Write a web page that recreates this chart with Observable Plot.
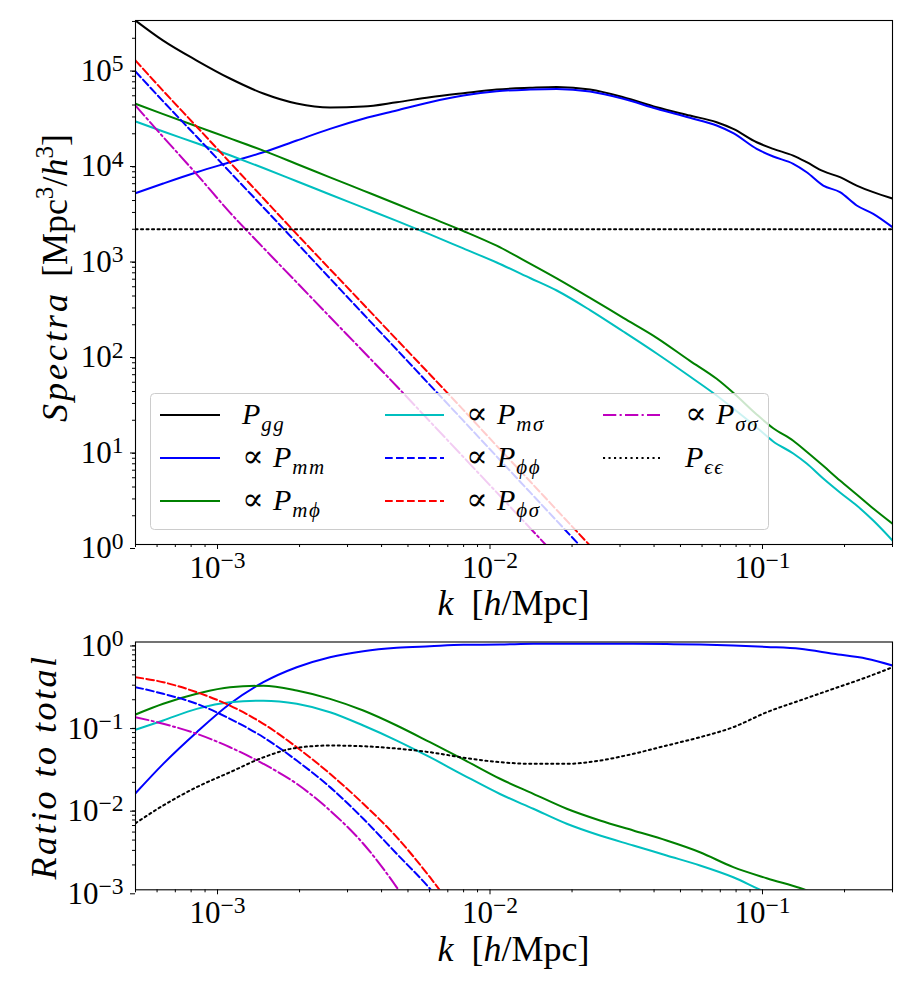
<!DOCTYPE html>
<html>
<head>
<meta charset="utf-8">
<script src="https://cdn.jsdelivr.net/npm/d3@7"></script>
<script src="https://cdn.jsdelivr.net/npm/@observablehq/plot@0.6"></script>
<style>
  body { margin: 0; background: #fff; }
  #chart { width: 900px; }
  #chart svg { display: block; }
  #chart svg, #chart svg text, #chart svg tspan { font-family: "Liberation Serif", "DejaVu Serif", "Times New Roman", serif !important; }
</style>
</head>
<body>
<div id="chart"></div>
<script>
// ---------- Top panel data (Spectra) ----------
const kTop = [5.0e-4, 6.32e-4, 8.39e-4, 1.111e-3, 1.473e-3, 1.953e-3, 2.587e-3, 3.428e-3, 4.546e-3, 6.02e-3,
  7.98e-3, 0.01058, 0.01402, 0.01757, 0.02328, 0.03084, 0.0409, 0.05418, 0.06789, 0.07812,
  0.09521, 0.1095, 0.1297, 0.1453, 0.1671, 0.1925, 0.2217, 0.255, 0.3];
const topPgg = [3.07e5, 1.89e5, 1.17e5, 7.58e4, 5.28e4, 4.15e4, 3.77e4, 3.85e4, 4.28e4, 4.83e4,
  5.32e4, 5.81e4, 6.05e4, 6.18e4, 5.81e4, 4.83e4, 3.79e4, 3.10e4, 2.64e4, 2.25e4,
  1.63e4, 1.39e4, 1.18e4, 1.007e4, 8110, 7020, 5740, 4890, 4200];
const topPmm = [4770, 6030, 7910, 1.007e4, 1.28e4, 1.70e4, 2.25e4, 2.87e4, 3.51e4, 4.28e4,
  5.03e4, 5.58e4, 5.81e4, 5.89e4, 5.54e4, 4.65e4, 3.65e4, 2.94e4, 2.44e4, 2.03e4,
  1.39e4, 1.156e4, 9690, 7910, 5740, 4890, 3550, 2900, 2100];
const topPmphi = [4.12e4, 3.21e4, 2.39e4, 1.79e4, 1.33e4, 9660, 7000, 5080, 3680, 2660,
  1920, 1345, 875, 613, 383, 236, 146, 83.8, 54.3, 38.8,
  23.0, 16.5, 12.2, 9.35, 6.66, 4.68, 3.34, 2.38, 1.65];
const topPmsig = [2.69e4, 2.11e4, 1.59e4, 1.19e4, 8760, 6370, 4630, 3370, 2450, 1770,
  1260, 897, 618, 457, 285, 170, 100, 57.4, 36.3, 26.5,
  16.8, 12.0, 8.97, 7.05, 4.91, 3.51, 2.56, 1.78, 1.10];
const topPphiphi = [8.97e4, 4.36e4, 1.86e4, 7930, 3390, 1440, 611, 259, 110, 46.7,
  19.8, 8.34, 3.53, 1.77, 0.75, null, null, null, null, null,
  null, null, null, null, null, null, null, null, null];
const topPphisig = [1.17e5, 5.62e4, 2.37e4, 1.0e4, 4220, 1780, 764, 328, 140, 60.3,
  25.7, 10.8, 4.59, 2.30, 0.975, 0.416, null, null, null, null,
  null, null, null, null, null, null, null, null, null];
const topPsigsig = [3.95e4, 1.85e4, 7520, 2990, 1280, 555, 241, 105, 45.4, 19.4,
  8.26, 3.51, 1.49, 0.75, null, null, null, null, null, null,
  null, null, null, null, null, null, null, null, null];
const kNoise = [5.0e-4, 0.3];
const topPee = [2000, 2000];

// ---------- Bottom panel data (Ratio to total) ----------
const kBot = [5.0e-4, 6.32e-4, 8.39e-4, 1.111e-3, 1.473e-3, 1.953e-3, 2.587e-3, 3.428e-3, 4.546e-3, 6.02e-3,
  7.98e-3, 0.01088, 0.01442, 0.01912, 0.02533, 0.03357, 0.0445, 0.05896, 0.07812, 0.1036,
  0.1373, 0.1819, 0.2412, 0.3];
const ratioPmm = [0.01476, 0.0335, 0.0809, 0.1786, 0.326, 0.495, 0.655, 0.774, 0.851, 0.889,
  0.925, 0.933, 0.951, 0.955, 0.955, 0.951, 0.944, 0.933, 0.908, 0.871,
  0.826, 0.719, 0.627, 0.519];
const ratioPmphi = [0.1324, 0.1786, 0.236, 0.284, 0.295, 0.259, 0.205, 0.148, 0.0975, 0.0612,
  0.038, 0.0221, 0.01452, 0.00957, 0.0069, 0.00522, 0.00395, 0.00285, 0.00188, 0.00138,
  0.00105, 0.00076, 0.00063, null];
const ratioPmsig = [0.0865, 0.1122, 0.155, 0.1866, 0.195, 0.1786, 0.1413, 0.0975, 0.0641, 0.0403,
  0.0245, 0.01445, 0.00957, 0.0063, 0.00454, 0.00344, 0.0026, 0.00197, 0.00142, 0.00093,
  0.00071, null, null, null];
const ratioPphiphi = [0.284, 0.236, 0.1786, 0.1175, 0.0703, 0.0367, 0.0175, 0.00724, 0.00273, 0.00103,
  0.00032, null, null, null, null, null, null, null, null, null, null, null, null, null];
const ratioPphisig = [0.375, 0.326, 0.2466, 0.170, 0.1023, 0.0532, 0.0254, 0.0110, 0.00434, 0.00142,
  0.0004, null, null, null, null, null, null, null, null, null, null, null, null, null];
const ratioPsigsig = [0.123, 0.1023, 0.0774, 0.0532, 0.0335, 0.0192, 0.00912, 0.00361, 0.00107, 0.00025,
  null, null, null, null, null, null, null, null, null, null, null, null, null, null];
const ratioPee = [0.0064, 0.0105, 0.0175, 0.0265, 0.0401, 0.0524, 0.0558, 0.0547, 0.0513, 0.0463,
  0.0398, 0.0351, 0.0335, 0.0335, 0.0367, 0.0443, 0.0558, 0.0703, 0.0931, 0.141,
  0.196, 0.271, 0.375, 0.495];

// ---------- Styles ----------
const ST = {
  gg:     {stroke: "#000000", dash: null},
  mm:     {stroke: "#0000ff", dash: null},
  mphi:   {stroke: "#008000", dash: null},
  msig:   {stroke: "#00bfbf", dash: null},
  phiphi: {stroke: "#0000ff", dash: "7.7,3.3"},
  phisig: {stroke: "#ff0000", dash: "7.7,3.3"},
  sigsig: {stroke: "#bf00bf", dash: "13.3,3.3,2.1,3.3"},
  ee:     {stroke: "#000000", dash: "2.1,3.4"}
};
const LW = 2;
const FONT = "Liberation Serif, DejaVu Serif, serif";
const TICKFONT = 31;

function rows(ks, vs) {
  return ks.map((k, i) => ({k, v: vs[i]})).filter(d => d.v != null);
}
function lineMark(ks, vs, key) {
  const s = ST[key];
  const o = {x: "k", y: "v", stroke: s.stroke, strokeWidth: LW, curve: "monotone-x", clip: true};
  if (s.dash) o.strokeDasharray = s.dash;
  return Plot.line(rows(ks, vs), o);
}
function minorTicks(lo, hi) {
  const out = [];
  for (let e = Math.floor(Math.log10(lo)) - 1; e <= Math.ceil(Math.log10(hi)); e++)
    for (let m = 2; m <= 9; m++) {
      const v = m * Math.pow(10, e);
      if (v >= lo * 0.999 && v <= hi * 1.001) out.push(v);
    }
  return out;
}
const powFmt = d => "10^" + Math.round(Math.log10(d));
const xDomain = [5e-4, 0.3];
const xMajor = [1e-3, 1e-2, 1e-1];

function panel({height, marginTop, marginBottom, yDomain, yMajor, lines}) {
  return Plot.plot({
    width: 900, height, marginLeft: 135, marginRight: 8, marginTop, marginBottom,
    style: {fontFamily: FONT, fontSize: TICKFONT + "px", background: "transparent", overflow: "visible", color: "black"},
    x: {type: "log", domain: xDomain, label: null},
    y: {type: "log", domain: yDomain, label: null},
    marks: [
      ...lines,
      Plot.frame({stroke: "black", strokeWidth: 1.1}),
      Plot.axisX({ticks: minorTicks(...xDomain), tickSize: 3, tickFormat: () => "", label: null}),
      Plot.axisX({ticks: xMajor, tickSize: 5, tickPadding: 6, tickFormat: powFmt, label: null, fontSize: TICKFONT}),
      Plot.axisY({ticks: minorTicks(...yDomain), tickSize: 3, tickFormat: () => "", label: null}),
      Plot.axisY({ticks: yMajor, tickSize: 5, tickPadding: 7, tickFormat: powFmt, label: null, fontSize: TICKFONT, dy: 4})
    ]
  });
}

function supLabels(svg) {
  d3.select(svg).selectAll("text").each(function () {
    const m = /^10\^(-?\d+)$/.exec(this.textContent.trim());
    if (!m) return;
    const sel = d3.select(this);
    sel.selectAll("*").remove();
    sel.text(null);
    sel.append("tspan").text("10");
    sel.append("tspan").attr("dy", "-0.42em").attr("font-size", "0.76em").text(m[1].replace("-", "\u2212"));
  });
}

// ---------- Top panel ----------
const topSvg = panel({
  height: 620, marginTop: 20, marginBottom: 76,
  yDomain: [1, 3.07e5], yMajor: [1, 10, 100, 1e3, 1e4, 1e5],
  lines: [
    lineMark(kTop, topPgg, "gg"),
    lineMark(kTop, topPmm, "mm"),
    lineMark(kTop, topPmphi, "mphi"),
    lineMark(kTop, topPmsig, "msig"),
    lineMark(kTop, topPphiphi, "phiphi"),
    lineMark(kTop, topPphisig, "phisig"),
    lineMark(kTop, topPsigsig, "sigsig"),
    lineMark(kNoise, topPee, "ee")
  ]
});
supLabels(topSvg);

// ---------- Bottom panel ----------
const botSvg = panel({
  height: 380, marginTop: 21.5, marginBottom: 110.7,
  yDomain: [1e-3, 1], yMajor: [1e-3, 1e-2, 1e-1, 1],
  lines: [
    lineMark(kBot, ratioPmm, "mm"),
    lineMark(kBot, ratioPmphi, "mphi"),
    lineMark(kBot, ratioPmsig, "msig"),
    lineMark(kBot, ratioPphiphi, "phiphi"),
    lineMark(kBot, ratioPphisig, "phisig"),
    lineMark(kBot, ratioPsigsig, "sigsig"),
    lineMark(kBot, ratioPee, "ee")
  ]
});
supLabels(botSvg);

// ---------- Titles ----------
const TITLEFONT = 36;
function xTitle(svg, y) {
  const t = d3.select(svg).append("text").attr("x", 513.5).attr("y", y)
    .attr("text-anchor", "middle").attr("font-size", TITLEFONT).attr("fill", "black");
  t.append("tspan").attr("font-style", "italic").text("k");
  t.append("tspan").attr("dx", 18).text("[");
  t.append("tspan").attr("font-style", "italic").text("h");
  t.append("tspan").text("/Mpc]");
}
xTitle(topSvg, 615);
xTitle(botSvg, 341);

{
  const g = d3.select(topSvg).append("g").attr("transform", "translate(67,278) rotate(-90)");
  const t = g.append("text").attr("text-anchor", "middle").attr("font-size", TITLEFONT).attr("fill", "black");
  t.append("tspan").attr("font-style", "italic").attr("letter-spacing", 3).text("Spectra");
  t.append("tspan").attr("dx", 14).text("[Mpc");
  t.append("tspan").attr("dy", -14).attr("font-size", "0.7em").text("3");
  t.append("tspan").attr("dy", 14).text("/");
  t.append("tspan").attr("font-style", "italic").text("h");
  t.append("tspan").attr("dy", -14).attr("font-size", "0.7em").text("3");
  t.append("tspan").attr("dy", 14).text("]");
}
{
  const g = d3.select(botSvg).append("g").attr("transform", "translate(56,147) rotate(-90)");
  g.append("text").attr("text-anchor", "middle").attr("font-size", TITLEFONT)
    .attr("font-style", "italic").attr("letter-spacing", 2.5).attr("fill", "black")
    .text("Ratio to total");
}

// ---------- Legend ----------
{
  const L = d3.select(topSvg).append("g").attr("font-size", 30).attr("text-anchor", "start");
  L.append("rect").attr("x", 150.5).attr("y", 393.5).attr("width", 618).attr("height", 136).attr("rx", 4)
    .attr("fill", "white").attr("fill-opacity", 0.8).attr("stroke", "#cccccc").attr("stroke-width", 1);
  const cols = [[160, 220, 242], [385, 444, 466], [603, 660, 685]];
  const rowsY = [415, 458, 501];
  const entries = [
    {key: "gg", prop: false, sub: "gg", c: 0, r: 0},
    {key: "mm", prop: true, sub: "mm", c: 0, r: 1},
    {key: "mphi", prop: true, sub: "m\u03D5", c: 0, r: 2},
    {key: "msig", prop: true, sub: "m\u03C3", c: 1, r: 0},
    {key: "phiphi", prop: true, sub: "\u03D5\u03D5", c: 1, r: 1},
    {key: "phisig", prop: true, sub: "\u03D5\u03C3", c: 1, r: 2},
    {key: "sigsig", prop: true, sub: "\u03C3\u03C3", c: 2, r: 0},
    {key: "ee", prop: false, sub: "\u03F5\u03F5", c: 2, r: 1}
  ];
  for (const e of entries) {
    const [x1, x2, tx] = cols[e.c];
    const y = rowsY[e.r];
    const s = ST[e.key];
    const ln = L.append("line").attr("x1", x1).attr("x2", x2).attr("y1", y).attr("y2", y)
      .attr("stroke", s.stroke).attr("stroke-width", LW);
    if (s.dash) ln.attr("stroke-dasharray", s.dash);
    const t = L.append("text").attr("x", tx).attr("y", y + 9).attr("fill", "black").attr("text-anchor", "start");
    if (e.prop) t.append("tspan").attr("font-size", 32).text("\u221D");
    t.append("tspan").attr("x", e.prop ? tx + 31 : tx).attr("font-style", "italic").text("P");
    t.append("tspan").attr("dx", 1).attr("dy", 7).attr("font-size", "0.7em").attr("font-style", "italic")
      .attr("letter-spacing", 1.5).text(e.sub);
  }
}

document.getElementById("chart").append(topSvg, botSvg);
</script>
</body>
</html>
